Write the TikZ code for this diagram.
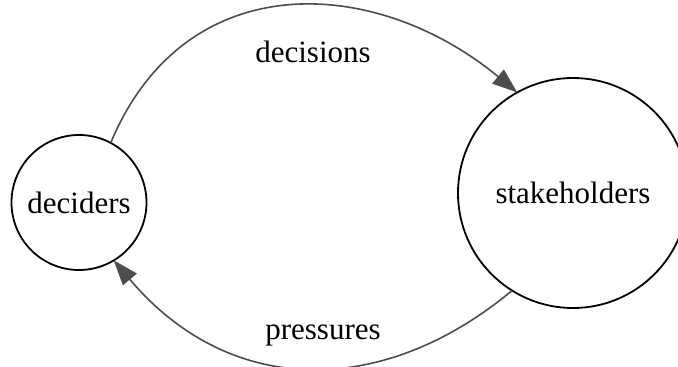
\documentclass[tikz,border=0pt]{standalone}
\usepackage{fontspec}
\setmainfont{Liberation Serif}
\usetikzlibrary{arrows.meta}

\definecolor{edgegray}{RGB}{77,77,77}

\begin{document}
\begin{tikzpicture}[x=1pt, y=-1pt, >={Triangle[length=25pt, width=18pt, fill=edgegray]},
    state/.style={draw=black, line width=1.8pt, circle, inner sep=0pt, outer sep=0pt,
        font=\fontsize{31}{37}\selectfont},
    flow/.style={->, draw=edgegray, line width=1.6pt},
    flowlabel/.style={anchor=base, font=\fontsize{31}{37}\selectfont}]

    % 1. Khung hình
    \useasboundingbox (0,0) rectangle (678,367);

    % 2. Hai nút tròn
    \node[state, minimum size=135pt] (dec) at (79,202.5) {deciders};
    \node[state, minimum size=230pt] (stk) at (573,193) {stakeholders};

    % 3. Cung trên: deciders -> stakeholders
    \draw[flow] (dec.62) .. controls (185,-35) and (375,-25) .. (stk.119);
    \node[flowlabel] (lbldec) at (313,62) {decisions};

    % 4. Cung dưới: stakeholders -> deciders
    \draw[flow] (stk.238) .. controls (383,398) and (230,398) .. (dec.301);
    \node[flowlabel] (lblpre) at (323,339) {pressures};

\end{tikzpicture}
\end{document}
